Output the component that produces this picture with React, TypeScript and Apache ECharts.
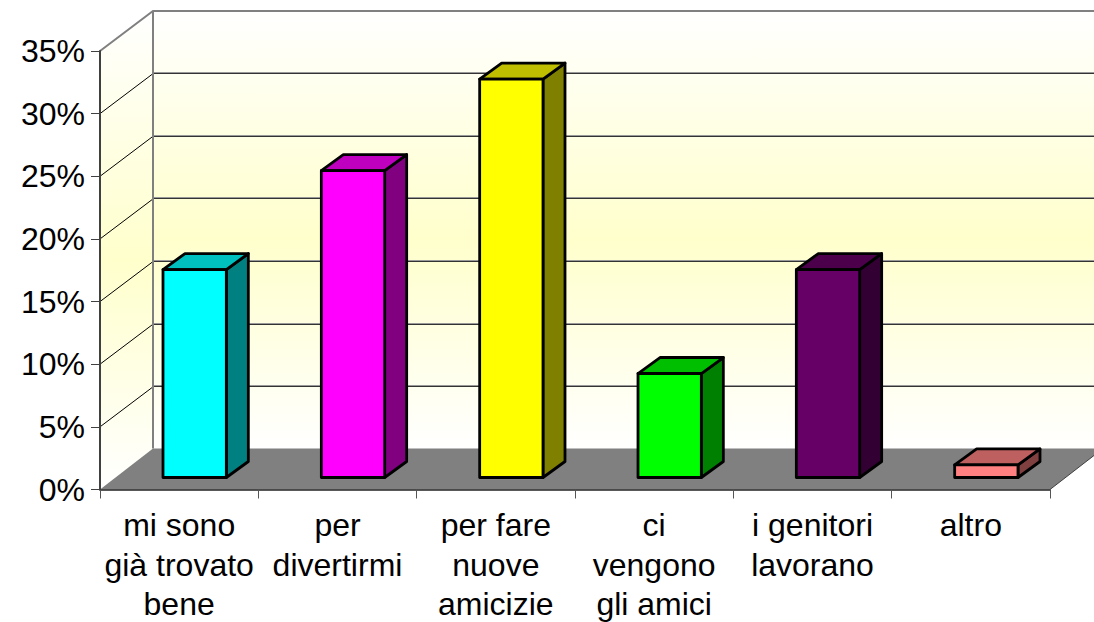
import React, { useEffect, useRef } from "react";
import * as echarts from "echarts";

const categories = [
  "mi sono\ngià trovato\nbene",
  "per\ndivertirmi",
  "per fare\nnuove\namicizie",
  "ci\nvengono\ngli amici",
  "i genitori\nlavorano",
  "altro",
];
const values = [16.6, 24.5, 31.8, 8.3, 16.6, 1.0];
const yTicks = [0, 5, 10, 15, 20, 25, 30, 35];
const frontColors = ["#00FFFF", "#FF00FF", "#FFFF00", "#00FF00", "#660066", "#FF8080"];
const topColors = ["#00BFBF", "#BF00BF", "#BFBF00", "#00BF00", "#4C004C", "#BF6060"];
const sideColors = ["#008080", "#800080", "#808000", "#008000", "#330033", "#804040"];

const DEPTH_X = 53;
const DEPTH_Y = 40;
const FLOOR_DEPTH_Y = 41;
const BAR_DX = 15.5;
const BAR_DY = 12;
const BAR_W = 0.4;
const BAR_DEPTH_X = 22;
const BAR_DEPTH_Y = 16;

const wallFill = () =>
  new echarts.graphic.LinearGradient(0, 0, 0, 1, [
    { offset: 0, color: "#FFFFFF" },
    { offset: 0.52, color: "#FFFFCC" },
    { offset: 1, color: "#FFFFFF" },
  ]);

function renderWalls(_params: any, api: any) {
  const size = api.size([1, 0]);
  const [x0, y0] = api.coord([0, 0]);
  const [, yTop] = api.coord([0, 35]);
  const left = x0 - size[0] / 2;
  const right = left + size[0] * categories.length;
  const children: any[] = [];
  const shape = (points: number[][]) => ({ points });
  children.push({
    type: "rect",
    shape: { x: left + DEPTH_X, y: yTop - DEPTH_Y, width: right - left, height: y0 - yTop },
    style: { fill: wallFill() },
  });
  children.push({
    type: "polygon",
    shape: shape([
      [left, yTop],
      [left + DEPTH_X, yTop - DEPTH_Y],
      [left + DEPTH_X, y0 - DEPTH_Y],
      [left, y0],
    ]),
    style: { fill: wallFill() },
  });
  children.push({
    type: "polygon",
    shape: shape([
      [left, y0],
      [left + DEPTH_X, y0 - FLOOR_DEPTH_Y],
      [right + DEPTH_X, y0 - FLOOR_DEPTH_Y],
      [right, y0],
    ]),
    style: { fill: "#808080" },
  });
  yTicks.forEach((t) => {
    if (t === 0 || t === 35) return;
    const y = api.coord([0, t])[1];
    const yb = Math.floor(y - DEPTH_Y);
    children.push({
      type: "line",
      shape: { x1: left, y1: y, x2: left + DEPTH_X, y2: y - DEPTH_Y },
      style: { stroke: "#000000", lineWidth: 1 },
    });
    children.push({
      type: "line",
      shape: { x1: left + DEPTH_X, y1: yb - 0.5, x2: right + DEPTH_X, y2: yb - 0.5 },
      style: { stroke: "#999999", lineWidth: 1 },
    });
    children.push({
      type: "line",
      shape: { x1: left + DEPTH_X, y1: yb + 0.5, x2: right + DEPTH_X, y2: yb + 0.5 },
      style: { stroke: "#333333", lineWidth: 1 },
    });
  });
  children.push({
    type: "polyline",
    shape: {
      points: [
        [left, yTop],
        [left + DEPTH_X, yTop - DEPTH_Y],
        [right + DEPTH_X, yTop - DEPTH_Y],
      ],
    },
    style: { stroke: "#808080", lineWidth: 2, fill: "none" },
  });
  children.push({
    type: "line",
    shape: { x1: left + DEPTH_X, y1: yTop - DEPTH_Y, x2: left + DEPTH_X, y2: y0 - FLOOR_DEPTH_Y },
    style: { stroke: "#808080", lineWidth: 2 },
  });
  children.push({
    type: "line",
    shape: { x1: right, y1: y0, x2: right + DEPTH_X, y2: y0 - FLOOR_DEPTH_Y },
    style: { stroke: "#404040", lineWidth: 1 },
  });
  return { type: "group", children };
}

function renderBar(params: any, api: any) {
  const i = params.dataIndex;
  const band = api.size([1, 0])[0];
  const w = band * BAR_W;
  const [cx, yv] = api.coord([api.value(0), api.value(1)]);
  const y0 = api.coord([api.value(0), 0])[1];
  const l = cx + BAR_DX - w / 2;
  const r = l + w;
  const t = yv - BAR_DY;
  const b = y0 - BAR_DY;
  const dx = BAR_DEPTH_X;
  const dy = BAR_DEPTH_Y;
  const line = { stroke: "#000000", lineWidth: 2.8, lineJoin: "round" };
  return {
    type: "group",
    children: [
      {
        type: "polygon",
        shape: { points: [[r, t], [r + dx, t - dy], [r + dx, b - dy], [r, b]] },
        style: { fill: sideColors[i], ...line },
      },
      {
        type: "polygon",
        shape: { points: [[l, t], [l + dx, t - dy], [r + dx, t - dy], [r, t]] },
        style: { fill: topColors[i], ...line },
      },
      {
        type: "rect",
        shape: { x: l, y: t, width: w, height: b - t },
        style: { fill: frontColors[i], ...line },
      },
    ],
  };
}

export default function App() {
  const ref = useRef<HTMLDivElement>(null);
  useEffect(() => {
    document.body.style.margin = "0";
    const chart = echarts.init(ref.current!, null, { renderer: "svg" });
    chart.setOption({
      animation: false,
      backgroundColor: "#FFFFFF",
      textStyle: { fontFamily: "Liberation Sans" },
      grid: { left: 100, right: 44, top: 51, bottom: 132.5, outerBoundsMode: "none", containLabel: false },
      xAxis: {
        type: "category",
        data: categories,
        z: 10,
        axisLine: { lineStyle: { color: "#222222", width: 1.5 } },
        axisTick: { show: true, alignWithLabel: false, interval: 0, length: 9, lineStyle: { color: "#555555", width: 1 } },
        axisLabel: {
          interval: 0,
          color: "#000000",
          fontFamily: "Liberation Sans",
          fontSize: 32,
          lineHeight: 39.5,
          margin: 16,
        },
        splitLine: { show: false },
      },
      yAxis: {
        type: "value",
        min: 0,
        max: 35,
        interval: 5,
        z: 10,
        axisLine: { show: true, lineStyle: { color: "#404040", width: 2 } },
        axisTick: { show: true, length: 9, lineStyle: { color: "#404040", width: 1 } },
        axisLabel: {
          formatter: "{value}%",
          color: "#000000",
          fontFamily: "Liberation Sans",
          fontSize: 32,
          margin: 15,
        },
        splitLine: { show: false },
      },
      series: [
        {
          type: "custom",
          z: 1,
          clip: false,
          silent: true,
          renderItem: renderWalls,
          encode: { x: 0, y: 1 },
          data: [[0, 0]],
        },
        {
          type: "custom",
          z: 2,
          clip: false,
          renderItem: renderBar,
          encode: { x: 0, y: 1 },
          data: values.map((v, i) => [i, v]),
        },
      ],
    });
    return () => chart.dispose();
  }, []);
  return <div ref={ref} style={{ width: 1094, height: 622 }} />;
}
